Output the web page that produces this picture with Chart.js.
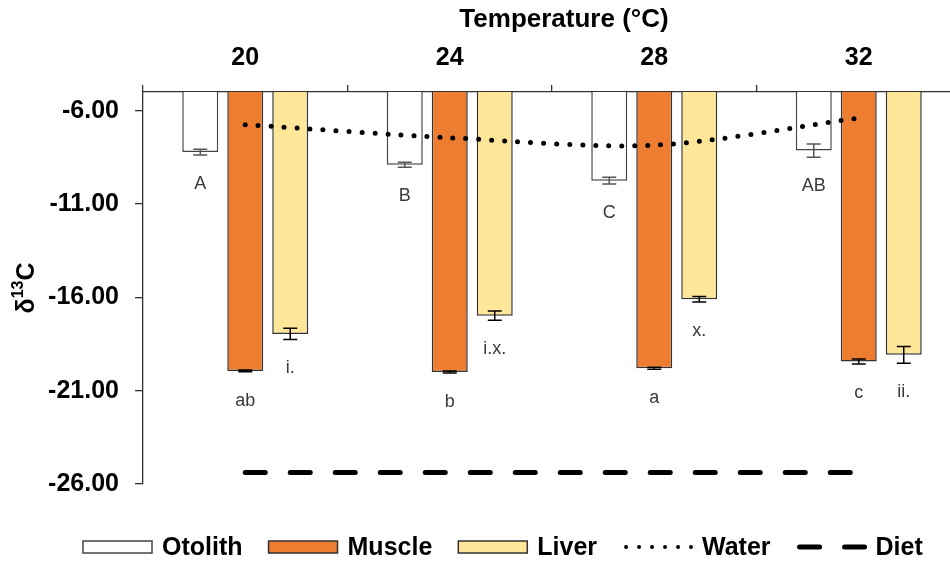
<!DOCTYPE html>
<html>
<head>
<meta charset="utf-8">
<script src="https://cdn.jsdelivr.net/npm/chart.js@4"></script>
<style>
    html, body { margin: 0; padding: 0; background: #fff; overflow: hidden; }
    #wrap { width: 970px; height: 562px; }
</style>
</head>
<body>
<div id="wrap"><canvas id="isoChart" width="970" height="562"></canvas></div>
<script>
// Temperature groups and tick values
const temps = ['20', '24', '28', '32'];
const yTicks = [-26, -21, -16, -11, -6];

// Mean d13C per tissue
const otolith = [-8.22, -8.9, -9.75, -8.14];
const muscle = [-19.94, -20.0, -19.8, -19.44];
const liver = [-17.96, -16.98, -16.1, -19.08];
const water = [-6.75, -7.45, -7.85, -6.4];
const diet = [-25.38, -25.38, -25.38, -25.38];

// Standard errors
const otolithErr = [0.15, 0.13, 0.18, 0.36];
const muscleErr = [0.05, 0.05, 0.05, 0.13];
const liverErr = [0.3, 0.25, 0.15, 0.45];

// Significance letters
const otolithLetters = ['A', 'B', 'C', 'AB'];
const muscleLetters = ['ab', 'b', 'a', 'c'];
const liverLetters = ['i.', 'i.x.', 'x.', 'ii.'];

const FONT = "'Liberation Sans', Arial, sans-serif";

// Error bars, letters, titles and legend
const annotate = {
    id: 'annotate',
    afterDatasetsDraw(chart) {
        const ctx = chart.ctx;
        const yScale = chart.scales.y;
        chart.data.datasets.forEach((ds, i) => {
            if (!ds.errors) return;
            const meta = chart.getDatasetMeta(i);
            meta.data.forEach((bar, j) => {
                const v = ds.data[j];
                const e = ds.errors[j];
                const y1 = yScale.getPixelForValue(v + e);
                const y2 = yScale.getPixelForValue(v - e);
                ctx.save();
                ctx.strokeStyle = ds.errorColor;
                ctx.lineWidth = 1.5;
                ctx.beginPath();
                ctx.moveTo(bar.x, y1); ctx.lineTo(bar.x, y2);
                ctx.moveTo(bar.x - 7, y1); ctx.lineTo(bar.x + 7, y1);
                ctx.moveTo(bar.x - 7, y2); ctx.lineTo(bar.x + 7, y2);
                ctx.stroke();
                // letter under the bar
                ctx.fillStyle = '#3a3a3a';
                ctx.font = '18px ' + FONT;
                ctx.textAlign = 'center';
                ctx.textBaseline = 'middle';
                ctx.fillText(ds.letters[j], bar.x, y2 + 29);
                ctx.restore();
            });
        });
    },
    afterDraw(chart) {
        const ctx = chart.ctx;
        const area = chart.chartArea;
        ctx.save();
        ctx.fillStyle = '#000';

        // axis title on top
        ctx.font = 'bold 26px ' + FONT;
        ctx.textAlign = 'center';
        ctx.textBaseline = 'middle';
        ctx.fillText('Temperature (°C)', (area.left + area.right) / 2 + 12, 20);

        // rotated y title with superscript
        ctx.save();
        ctx.translate(25, 288);
        ctx.rotate(-Math.PI / 2);
        ctx.textAlign = 'left';
        ctx.textBaseline = 'alphabetic';
        ctx.font = 'bold 25px ' + FONT;
        const wD = ctx.measureText('δ').width;
        const wC = ctx.measureText('C').width;
        ctx.font = 'bold 16px ' + FONT;
        const wS = ctx.measureText('13').width;
        let x = -(wD + wS + wC) / 2;
        ctx.font = 'bold 25px ' + FONT;
        ctx.fillText('δ', x, 9); x += wD;
        ctx.font = 'bold 16px ' + FONT;
        ctx.fillText('13', x, -2); x += wS;
        ctx.font = 'bold 25px ' + FONT;
        ctx.fillText('C', x, 9);
        ctx.restore();

        // legend row
        const ly = 547;
        let lx = 83;
        ctx.font = 'bold 25px ' + FONT;
        ctx.textAlign = 'left';
        ctx.textBaseline = 'middle';
        chart.data.datasets.forEach(ds => {
            if (ds.type === 'line') {
                ctx.save();
                ctx.strokeStyle = ds.borderColor;
                ctx.lineWidth = ds.legendWidth;
                ctx.lineCap = 'round';
                ctx.setLineDash(ds.borderDash);
                ctx.beginPath();
                ctx.moveTo(lx + 3, ly);
                ctx.lineTo(lx + 74, ly);
                ctx.stroke();
                ctx.restore();
            } else {
                ctx.fillStyle = ds.backgroundColor;
                ctx.fillRect(lx, ly - 6, 69, 12);
                ctx.strokeStyle = ds.borderColor;
                ctx.lineWidth = 1.5;
                ctx.strokeRect(lx, ly - 6, 69, 12);
            }
            ctx.fillStyle = '#000';
            ctx.fillText(ds.label, lx + 79, ly + 1);
            lx += 79 + ctx.measureText(ds.label).width + 26;
        });
        ctx.restore();
    }
};

const barStyle = { borderWidth: 1.5, categoryPercentage: 0.66, barPercentage: 0.8, order: 2 };

new Chart(document.getElementById('isoChart'), {
    type: 'bar',
    data: {
        labels: temps,
        datasets: [
            Object.assign({ label: 'Otolith', data: otolith, errors: otolithErr, letters: otolithLetters,
                backgroundColor: '#ffffff', borderColor: '#444444', errorColor: '#555555' }, barStyle),
            Object.assign({ label: 'Muscle', data: muscle, errors: muscleErr, letters: muscleLetters,
                backgroundColor: '#ED7D31', borderColor: '#333333', errorColor: '#000000' }, barStyle),
            Object.assign({ label: 'Liver', data: liver, errors: liverErr, letters: liverLetters,
                backgroundColor: '#FFE699', borderColor: '#333333', errorColor: '#000000' }, barStyle),
            {
                type: 'line', label: 'Water', data: water, order: 1,
                borderColor: '#000', borderWidth: 5, legendWidth: 4, borderDash: [0, 13],
                borderCapStyle: 'round', pointRadius: 0, tension: 0.3, fill: false
            },
            {
                type: 'line', label: 'Diet', data: diet, order: 1,
                borderColor: '#000', borderWidth: 5, legendWidth: 5, borderDash: [20, 25],
                borderCapStyle: 'round', pointRadius: 0, tension: 0, fill: false
            }
        ]
    },
    options: {
        responsive: false,
        animation: false,
        layout: { padding: { top: 0, left: 0, right: 9, bottom: 78 } },
        plugins: {
            legend: { display: false },
            tooltip: { enabled: false },
            title: { display: false }
        },
        scales: {
            x: {
                position: 'top',
                offset: true,
                grid: { offset: true, drawOnChartArea: false, tickLength: 7, color: '#333', lineWidth: 1.3 },
                border: { color: '#333', width: 1.3 },
                ticks: { color: '#000', font: { family: FONT, size: 25, weight: 'bold' }, padding: 12 },
                afterFit(scale) { scale.height = 92; }
            },
            y: {
                min: -26,
                max: -5,
                afterBuildTicks(scale) { scale.ticks = yTicks.map(v => ({ value: v })); },
                grid: { drawOnChartArea: false, tickLength: 8, color: '#333', lineWidth: 1.3 },
                border: { color: '#333', width: 1.3 },
                ticks: {
                    color: '#000',
                    font: { family: FONT, size: 25, weight: 'bold' },
                    padding: 16,
                    callback: v => Number(v).toFixed(2)
                },
                afterFit(scale) { scale.width = 143; }
            }
        }
    },
    plugins: [annotate]
});
</script>
</body>
</html>
